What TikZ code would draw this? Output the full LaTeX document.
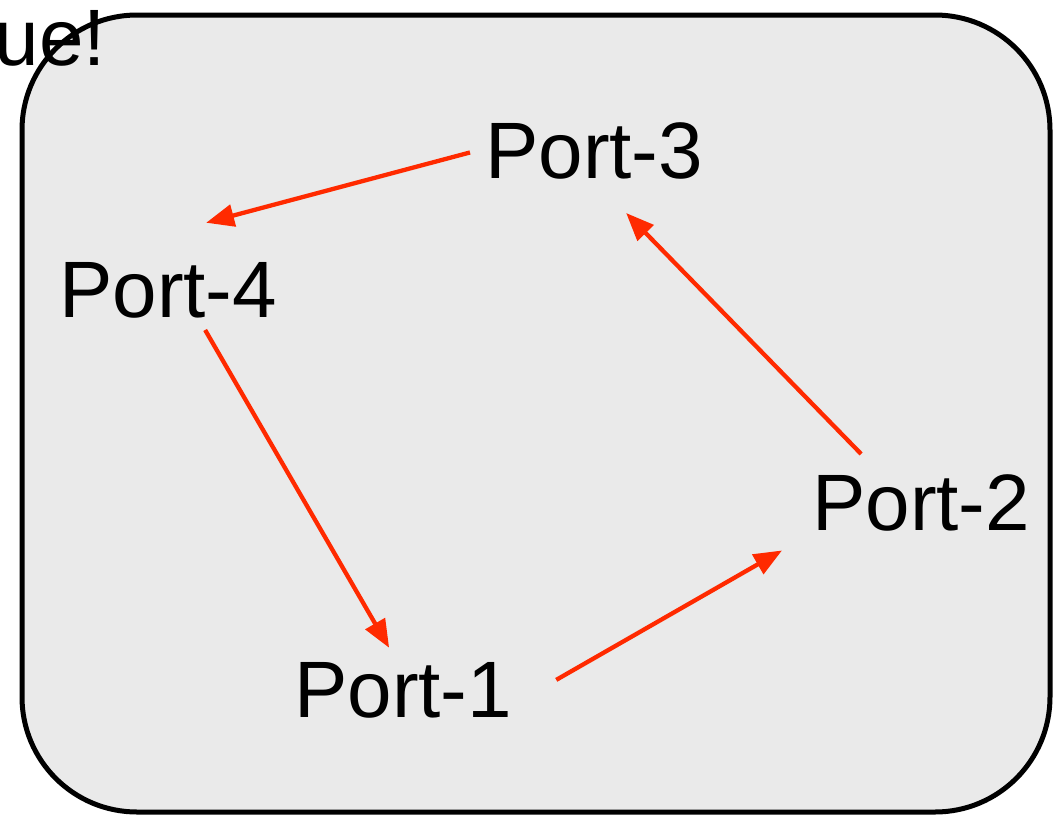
\documentclass[tikz,border=0pt]{standalone}
\usepackage{fontspec}
\setmainfont{Liberation Sans}
\usetikzlibrary{arrows.meta,calc}
\definecolor{boxfill}{HTML}{EAEAEA}
\definecolor{linkred}{HTML}{FF2A00}
\begin{document}
\begin{tikzpicture}[x=1pt,y=-1pt,
  port/.style={inner sep=0pt,anchor=base west,font=\fontsize{80}{96}\selectfont},
  link/.style={draw=linkred,line width=4.3pt,-{Triangle[length=28pt,width=22pt]}}]
\useasboundingbox (0,0) rectangle (1053,815);
\clip (0,0) rectangle (1053,815);
% switch enclosure
\draw[fill=boxfill,line width=5pt,rounded corners=115pt] (22,15) rectangle (1050,812);
% caption fragment
\node[inner sep=0pt,anchor=base east,font=\fontsize{80}{96}\selectfont] (cap) at (106,65) {ue!};
% ports
\node[port] (p3) at (485,178) {Port-3};
\node[port] (p4) at (59,317) {Port-4};
\node[port] (p2) at (812,530) {Port-2};
\node[port] (p1) at (294,717) {Port-1};
% forwarding ring
\draw[link] ($(p3.west)+(-15,2)$) -- ($(p4.north)+(38,-39)$);
\draw[link] ($(p4.south)+(37,12)$) -- ($(p1.north)+(-14,-14)$);
\draw[link] ($(p1.east)+(44,-10)$) -- ($(p2.west)+(-30,48)$);
\draw[link] ($(p2.north)+(-60,-20)$) -- ($(p3.south)+(32,34)$);
\end{tikzpicture}
\end{document}
